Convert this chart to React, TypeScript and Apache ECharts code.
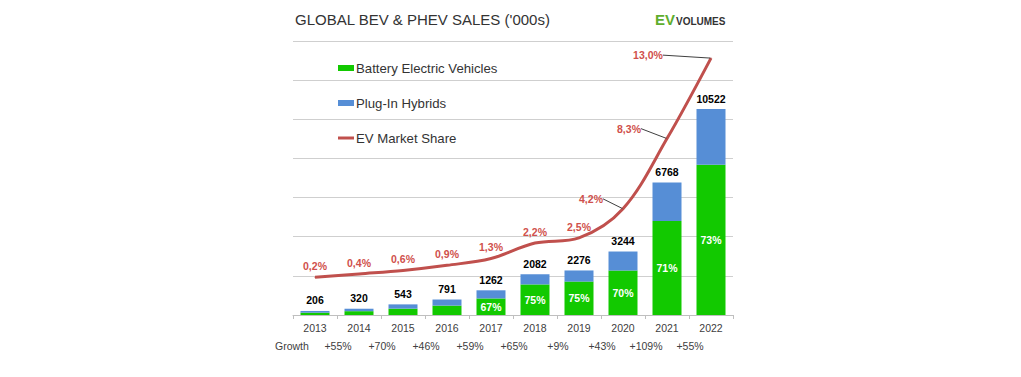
import React, { useEffect, useRef } from "react";
import * as echarts from "echarts";

const years = ["2013", "2014", "2015", "2016", "2017", "2018", "2019", "2020", "2021", "2022"];
const bev = [118, 195, 325, 480, 846, 1562, 1707, 2271, 4805, 7681];
const phev = [88, 125, 218, 311, 416, 520, 569, 973, 1963, 2841];
const totals = [206, 320, 543, 791, 1262, 2082, 2276, 3244, 6768, 10522];
const bevShare = ["", "", "", "", "67%", "75%", "75%", "70%", "71%", "73%"];
const marketShare = [0.2, 0.4, 0.6, 0.9, 1.3, 2.2, 2.5, 4.2, 8.3, 13.0];
const growth = ["+55%", "+70%", "+46%", "+59%", "+65%", "+9%", "+43%", "+109%", "+55%"];

const FONT = "'Liberation Sans', Arial, sans-serif";
const GREEN = "#12c900";
const BLUE = "#568ed6";
const RED = "#c0504d";

// label offsets for the three labels with leader lines (relative to default 'top' position)
const labelShift: Record<number, [number, number]> = {
  7: [-32, 1],
  8: [-38, 1],
  9: [-63, 8],
};

export default function App() {
  const ref = useRef<HTMLDivElement>(null);
  useEffect(() => {
    if (!ref.current) return;
    const chart = echarts.init(ref.current, undefined, { renderer: "svg" });
    const lineData = marketShare.map((v, i) =>
      labelShift[i] ? { value: v, labelLine: { show: true } } : { value: v, labelLine: { show: false } }
    );
    const option: any = {
      animation: false,
      textStyle: { fontFamily: FONT },
      grid: { left: 293, right: 288, top: 41, bottom: 62, containLabel: false },
      legend: {
        orient: "vertical",
        left: 338,
        top: 61,
        padding: 0,
        itemWidth: 16,
        itemHeight: 6,
        itemGap: 21,
        textStyle: { fontSize: 13.2, color: "#333", fontFamily: FONT, lineHeight: 14, padding: [0, 0, 0, -3] },
        data: [
          { name: "Battery Electric Vehicles", icon: "rect" },
          { name: "Plug-In Hybrids", icon: "rect" },
          { name: "EV Market Share", icon: "path://M0,0H16V3H0Z" },
        ],
      },
      xAxis: {
        type: "category",
        data: years,
        axisLine: { lineStyle: { color: "#bfbfbf" } },
        axisTick: { show: true, length: 4, lineStyle: { color: "#bfbfbf" } },
        axisLabel: { color: "#404040", fontSize: 10.5, margin: 7, fontFamily: FONT },
      },
      yAxis: [
        {
          type: "value",
          min: 0,
          max: 14000,
          interval: 2000,
          axisLabel: { show: false },
          axisLine: { show: false },
          axisTick: { show: false },
          splitLine: { lineStyle: { color: "#cfcfcf", width: 1 } },
        },
        {
          type: "value",
          min: -2,
          max: 14,
          interval: 2,
          show: false,
          splitLine: { show: false },
        },
      ],
      series: [
        {
          name: "Battery Electric Vehicles",
          type: "bar",
          stack: "sales",
          data: bev,
          barWidth: 29,
          itemStyle: { color: GREEN },
          label: {
            show: true,
            position: "inside",
            color: "#fff",
            fontWeight: "bold",
            fontSize: 10.5,
            fontFamily: FONT,
            formatter: (p: any) => bevShare[p.dataIndex],
          },
        },
        {
          name: "Plug-In Hybrids",
          type: "bar",
          stack: "sales",
          data: phev,
          barWidth: 29,
          itemStyle: { color: BLUE },
          label: {
            show: true,
            position: "top",
            distance: 5,
            color: "#000",
            fontWeight: "bold",
            fontSize: 10.5,
            fontFamily: FONT,
            formatter: (p: any) => String(totals[p.dataIndex]),
          },
        },
        {
          name: "EV Market Share",
          type: "line",
          yAxisIndex: 1,
          data: lineData,
          smooth: 0.35,
          symbol: "circle",
          symbolSize: 1,
          showSymbol: true,
          itemStyle: { color: RED },
          lineStyle: { color: RED, width: 3 },
          label: {
            show: true,
            position: "top",
            distance: 5,
            color: "#d0504c",
            fontWeight: "bold",
            fontSize: 10.5,
            fontFamily: FONT,
            formatter: (p: any) => marketShare[p.dataIndex].toFixed(1).replace(".", ",") + "%",
          },
          labelLine: { show: false, lineStyle: { color: "#404040", width: 1 } },
          labelLayout: (params: any) => {
            const s = labelShift[params.dataIndex];
            if (!s) return {};
            return { dx: s[0], dy: s[1] };
          },
          z: 5,
        },
      ],
    };
    chart.setOption(option);

    const centers = years.map((y) => chart.convertToPixel({ xAxisIndex: 0 }, y) as number);
    const graphics: any[] = [
      {
        type: "text",
        left: 295,
        top: 12,
        style: { text: "GLOBAL BEV & PHEV SALES ('000s)", font: `15px ${FONT}`, fill: "#333" },
      },
      {
        type: "text",
        left: 655,
        top: 12,
        style: { text: "EV", font: `bold 15px ${FONT}`, fill: "#5fae2e" },
      },
      {
        type: "text",
        left: 676,
        top: 16,
        style: { text: "VOLUMES", font: `bold 10px ${FONT}`, fill: "#333" },
      },
      {
        type: "text",
        x: 275,
        y: 346,
        style: { text: "Growth", font: `10.5px ${FONT}`, fill: "#404040", textVerticalAlign: "middle" },
      },
    ];
    growth.forEach((g, i) => {
      const x = (centers[i] + centers[i + 1]) / 2 + 1;
      graphics.push({
        type: "text",
        x,
        y: 346,
        style: { text: g, font: `10.5px ${FONT}`, fill: "#404040", textAlign: "center", textVerticalAlign: "middle" },
      });
    });
    chart.setOption({ graphic: graphics });

    return () => chart.dispose();
  }, []);
  return <div ref={ref} style={{ width: 1021, height: 377, position: "absolute", left: 0, top: 0 }} />;
}
